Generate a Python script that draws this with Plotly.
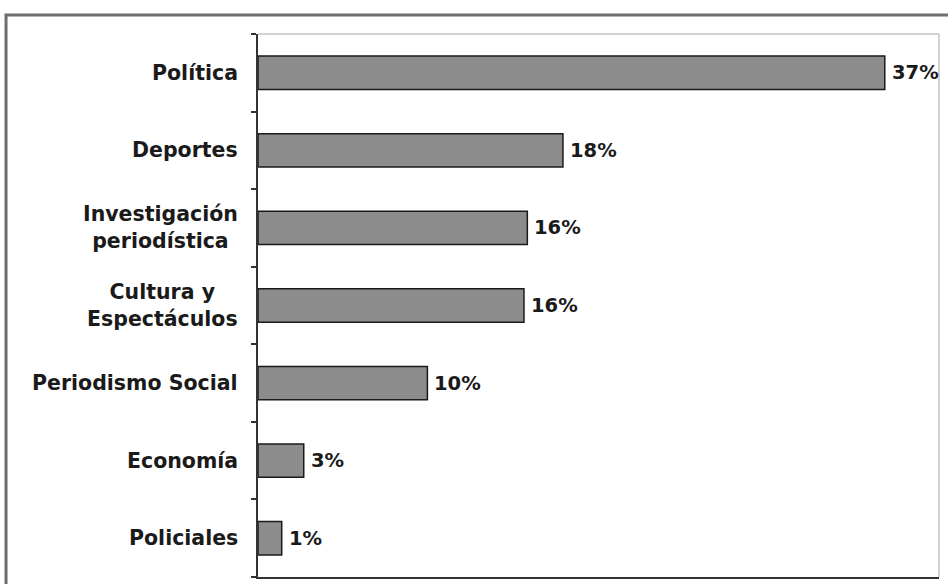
import plotly.graph_objects as go

categories = ["Política", "Deportes", "Investigación<br>periodística", "Cultura y<br>Espectáculos",
              "Periodismo Social", "Economía", "Policiales"]
values = [37, 18, 15.9, 15.7, 10, 2.7, 1.4]
labels = ["37%", "18%", "16%", "16%", "10%", "3%", "1%"]

positions = list(range(len(categories)))
FONT = "DejaVu Sans"

fig = go.Figure()
fig.add_trace(go.Bar(
    x=values, y=positions, orientation="h",
    width=0.43,
    marker=dict(color="#8c8c8c", line=dict(color="#1a1a1a", width=1.5)),
))

for p, c in zip(positions, categories):
    fig.add_annotation(
        x=0, xref="paper", y=p, yref="y", text=c, showarrow=False,
        xanchor="right", yanchor="middle", align="center", xshift=-18,
        font=dict(family=FONT, size=20.5, color="#1a1a1a", weight="bold"),
    )

for p, v, t in zip(positions, values, labels):
    fig.add_annotation(
        x=v, xref="x", y=p, yref="y", text=t, showarrow=False,
        xanchor="left", yanchor="middle", xshift=5,
        font=dict(family=FONT, size=19.5, color="#1a1a1a", weight="bold"),
    )

# outer frame
fig.add_shape(type="rect", xref="paper", yref="paper",
              x0=-0.370, x1=1.2, y0=-0.2, y1=1.035,
              line=dict(color="#6e6e6e", width=3), layer="below")
# light top/right plot border
fig.add_shape(type="line", xref="paper", yref="paper", x0=0, x1=1, y0=1, y1=1,
              line=dict(color="#c4c4c4", width=1.5))
fig.add_shape(type="line", xref="paper", yref="paper", x0=1, x1=1, y0=0, y1=1,
              line=dict(color="#c4c4c4", width=1.5))

fig.update_layout(
    width=948, height=584,
    margin=dict(l=258, r=9, t=34, b=7),
    paper_bgcolor="white", plot_bgcolor="white",
    showlegend=False,
    xaxis=dict(range=[0, 40.2], showgrid=False, zeroline=False, showticklabels=False,
               showline=True, linecolor="#333333", linewidth=1.5, ticks=""),
    yaxis=dict(range=[6.5, -0.5], showgrid=False, zeroline=False, showticklabels=False,
               showline=True, linecolor="#333333", linewidth=1.5,
               tickmode="array", tickvals=[i - 0.5 for i in range(len(categories) + 1)],
               ticks="outside", ticklen=5, tickcolor="#333333", tickwidth=1.5),
)

fig.write_html("out.html")
